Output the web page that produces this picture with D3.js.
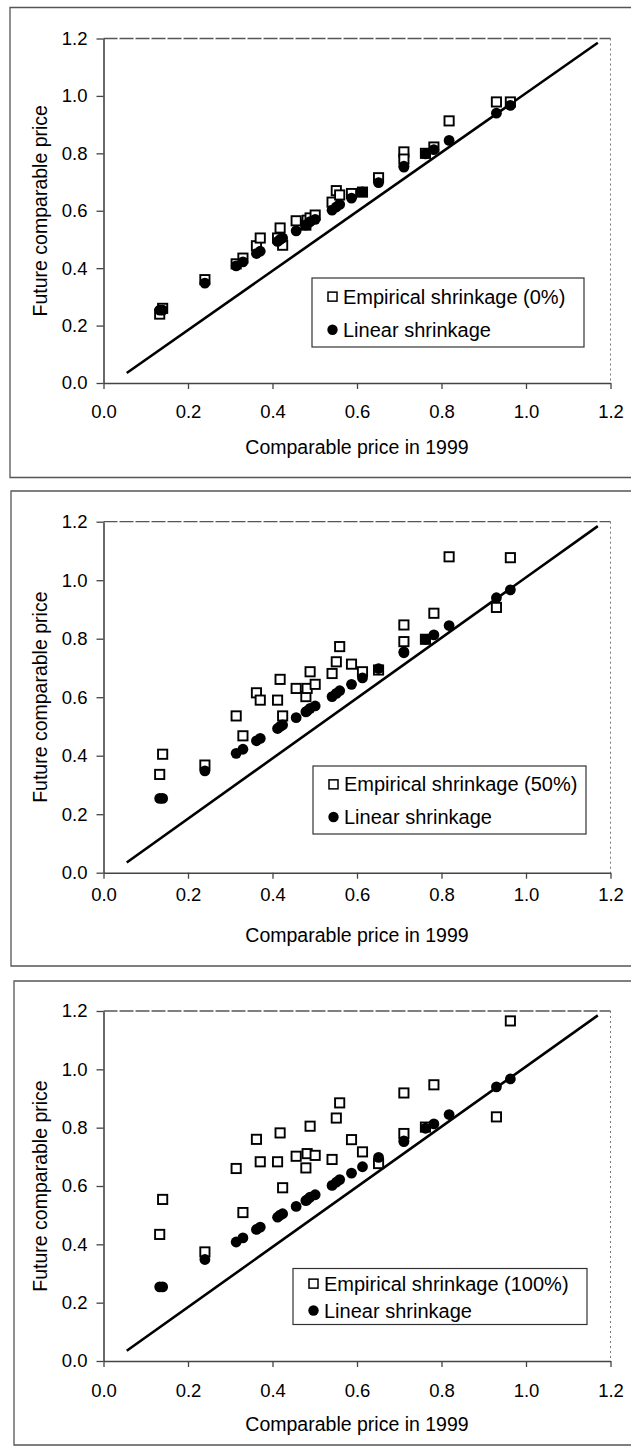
<!DOCTYPE html>
<html>
<head>
<meta charset="utf-8">
<script src="https://cdn.jsdelivr.net/npm/d3@7"></script>
<style>
  body { margin: 0; background: #fff; }
  svg { display: block; font-family: "Liberation Sans", Arial, sans-serif; }
  .tick text { font-size: 18.5px; fill: #000; }
  .axis-title { font-size: 19.5px; fill: #000; }
  .legend-text { font-size: 20px; fill: #000; }
</style>
</head>
<body>
<svg id="chart" width="631" height="1450"></svg>
<script>
// comparable price in 1999 (x) for each item
const priceX = [0.133, 0.140, 0.240, 0.314, 0.330, 0.362, 0.371, 0.412, 0.418, 0.424,
  0.456, 0.479, 0.482, 0.489, 0.501, 0.541, 0.551, 0.559, 0.587, 0.613,
  0.651, 0.711, 0.711, 0.762, 0.782, 0.818, 0.930, 0.963];

// linear shrinkage (same in every panel)
const linearY = [0.254, 0.254, 0.348, 0.408, 0.422, 0.451, 0.459, 0.493, 0.500, 0.505,
  0.530, 0.550, 0.553, 0.562, 0.570, 0.602, 0.613, 0.622, 0.644, 0.666,
  0.698, 0.752, 0.755, 0.798, 0.813, 0.845, 0.940, 0.967];

// empirical shrinkage, 0% / 50% / 100%
const empirical0 = [0.240, 0.260, 0.360, 0.415, 0.435, 0.478, 0.505, 0.505, 0.540, 0.480,
  0.565, 0.550, 0.567, 0.575, 0.585, 0.630, 0.670, 0.655, 0.660, 0.665,
  0.715, 0.805, 0.780, 0.800, 0.822, 0.913, 0.979, 0.979];
const empirical50 = [0.336, 0.405, 0.368, 0.536, 0.468, 0.615, 0.590, 0.590, 0.661, 0.536,
  0.630, 0.602, 0.630, 0.687, 0.644, 0.681, 0.721, 0.773, 0.713, 0.687,
  0.693, 0.847, 0.790, 0.798, 0.887, 1.080, 0.907, 1.077];
const empirical100 = [0.434, 0.554, 0.374, 0.660, 0.509, 0.760, 0.683, 0.683, 0.782, 0.594,
  0.702, 0.662, 0.711, 0.805, 0.705, 0.691, 0.833, 0.885, 0.759, 0.717,
  0.677, 0.919, 0.780, 0.802, 0.947, 1.250, 0.837, 1.166];

// 45-degree reference line end points [x, y]
const refLine = [[0.055, 0.035], [1.170, 1.185]];

const axisTicks = [0, 0.2, 0.4, 0.6, 0.8, 1.0, 1.2];
const legendLabels = ["Empirical shrinkage (0%)", "Empirical shrinkage (50%)", "Empirical shrinkage (100%)"];
const linearLabel = "Linear shrinkage";
const xTitle = "Comparable price in 1999";
const yTitle = "Future comparable price";

// layout of the three scanned panels
const panels = [
  { emp: empirical0, frame: [10, 7.5, 477.5], top: 38.5, bottom: 383, tickY: 412, titleY: 447,
    legend: { x: 312, y: 278, w: 272, h: 69 } },
  { emp: empirical50, frame: [11, 491, 966], top: 521.7, bottom: 872.7, tickY: 895, titleY: 935,
    legend: { x: 313, y: 766, w: 273, h: 68 } },
  { emp: empirical100, frame: [14, 981, 1445], top: 1011, bottom: 1361, tickY: 1391, titleY: 1424,
    legend: { x: 293, y: 1268.5, w: 294, h: 56 } }
];

const svg = d3.select("#chart");
const x = d3.scaleLinear().domain([0, 1.2]).range([103.5, 610.5]);

panels.forEach((p, i) => {
  const g = svg.append("g");
  const y = d3.scaleLinear().domain([0, 1.2]).range([p.bottom, p.top]);

  // outer frame of the panel
  const [fx, fTop, fBot] = p.frame;
  g.append("path")
    .attr("d", `M631,${fTop}H${fx}V${fBot}H631`)
    .attr("fill", "none")
    .attr("stroke", "#555")
    .attr("stroke-width", 1.3);

  // plot area top + right border (faint in the scan)
  g.append("line")
    .attr("x1", x(0)).attr("x2", x(1.2))
    .attr("y1", y(1.2)).attr("y2", y(1.2))
    .attr("stroke", "#555").attr("stroke-width", 1.3)
    .attr("stroke-dasharray", "14,2");
  g.append("line")
    .attr("x1", x(1.2)).attr("x2", x(1.2))
    .attr("y1", y(1.2)).attr("y2", y(0))
    .attr("stroke", "#777").attr("stroke-width", 1)
    .attr("stroke-dasharray", "2,3");

  // axes
  const yAxis = g.append("g")
    .attr("transform", `translate(${x(0)},0)`)
    .call(d3.axisLeft(y).tickValues(axisTicks).tickFormat(d3.format(".1f"))
      .tickSize(7).tickSizeOuter(0).tickPadding(9));
  const xAxis = g.append("g")
    .attr("transform", `translate(0,${y(0)})`)
    .call(d3.axisBottom(x).tickValues(axisTicks).tickFormat(d3.format(".1f"))
      .tickSize(6).tickSizeOuter(0).tickPadding(0));
  [xAxis, yAxis].forEach((a) => {
    a.select(".domain").attr("stroke", "#444").attr("stroke-width", 1.6);
    a.selectAll(".tick line").attr("stroke", "#444").attr("stroke-width", 1.3);
    a.selectAll(".tick text").attr("font-family", null).attr("font-size", null);
  });
  xAxis.selectAll(".tick text")
    .attr("y", p.tickY - p.bottom)
    .attr("dy", "0.35em");

  // axis titles
  g.append("text")
    .attr("class", "axis-title")
    .attr("x", x(0.6))
    .attr("y", p.titleY)
    .attr("dy", "0.35em")
    .attr("text-anchor", "middle")
    .text(xTitle);
  g.append("text")
    .attr("class", "axis-title")
    .attr("transform", `translate(40,${(p.top + p.bottom) / 2}) rotate(-90)`)
    .attr("dy", "0.35em")
    .attr("text-anchor", "middle")
    .text(yTitle);

  // clip to the plot area
  const clipId = "clip" + i;
  g.append("clipPath").attr("id", clipId)
    .append("rect")
    .attr("x", x(0)).attr("y", y(1.2) - 6)
    .attr("width", x(1.2) - x(0)).attr("height", y(0) - y(1.2) + 6);
  const plot = g.append("g").attr("clip-path", `url(#${clipId})`);

  // 45 degree line
  plot.append("path")
    .datum(refLine)
    .attr("d", d3.line().x((d) => x(d[0])).y((d) => y(d[1])))
    .attr("fill", "none")
    .attr("stroke", "#000")
    .attr("stroke-width", 2.6);

  const data = priceX.map((px, k) => ({ px, lin: linearY[k], emp: p.emp[k] }));

  // empirical shrinkage squares
  plot.selectAll(".sq")
    .data(data.filter((d) => d.emp <= 1.2))
    .enter()
    .append("rect")
    .attr("class", "sq")
    .attr("x", (d) => x(d.px) - 4.6)
    .attr("y", (d) => y(d.emp) - 4.6)
    .attr("width", 9.2)
    .attr("height", 9.2)
    .attr("fill", "#fff")
    .attr("stroke", "#000")
    .attr("stroke-width", 1.9);

  // linear shrinkage dots
  plot.selectAll(".dot")
    .data(data)
    .enter()
    .append("circle")
    .attr("class", "dot")
    .attr("cx", (d) => x(d.px))
    .attr("cy", (d) => y(d.lin))
    .attr("r", 5.4)
    .attr("fill", "#000");

  // legend
  const L = p.legend;
  const lg = g.append("g").attr("transform", `translate(${L.x},${L.y})`);
  lg.append("rect")
    .attr("width", L.w).attr("height", L.h)
    .attr("fill", "#fff")
    .attr("stroke", "#333").attr("stroke-width", 1.2);
  const row1 = L.h * 0.27, row2 = L.h * 0.75;
  lg.append("rect")
    .attr("x", 16).attr("y", row1 - 4.5)
    .attr("width", 9).attr("height", 9)
    .attr("fill", "#fff").attr("stroke", "#000").attr("stroke-width", 1.5);
  lg.append("circle")
    .attr("cx", 20.5).attr("cy", row2).attr("r", 5.2).attr("fill", "#000");
  lg.append("text").attr("class", "legend-text")
    .attr("x", 31).attr("y", row1).attr("dy", "0.35em")
    .text(legendLabels[i]);
  lg.append("text").attr("class", "legend-text")
    .attr("x", 31).attr("y", row2).attr("dy", "0.35em")
    .text(linearLabel);
});
</script>
</body>
</html>
